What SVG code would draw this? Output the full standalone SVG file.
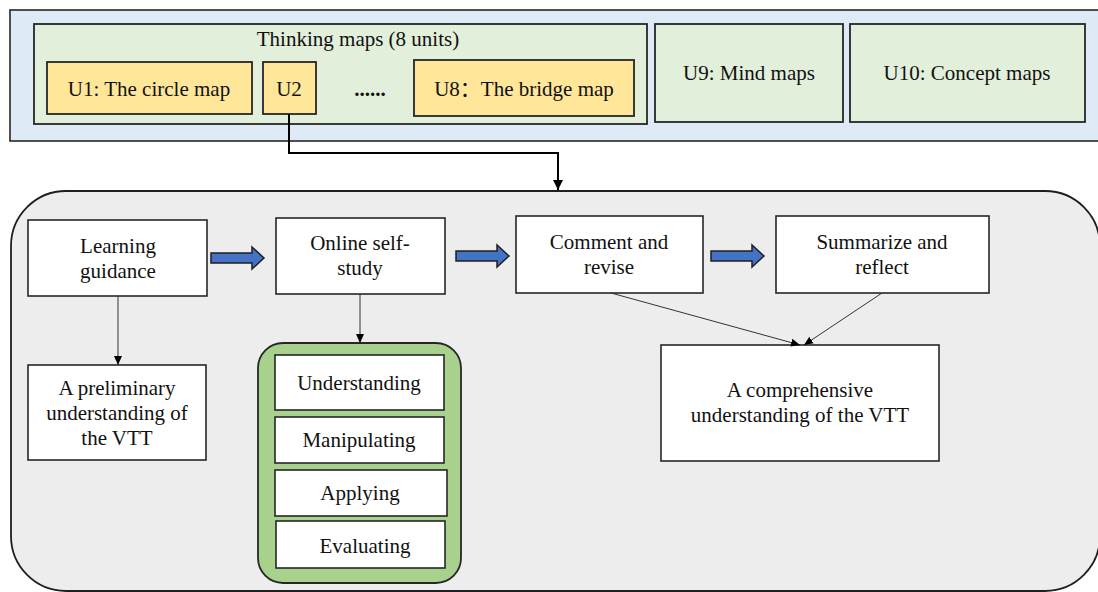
<svg xmlns="http://www.w3.org/2000/svg" width="1098" height="592" viewBox="0 0 1098 592">
<defs>
<style>
.t{font-family:"Liberation Serif","Noto Sans CJK SC",serif;font-size:21px;fill:#111;text-anchor:middle}
.box{fill:#fff;stroke:#262626;stroke-width:1.6}
.unit{fill:#FFE699;stroke:#262626;stroke-width:1.8}
.gbox{fill:#E2EFDA;stroke:#262626;stroke-width:1.8}
.thin{fill:none;stroke:#333;stroke-width:1}
.barrow{fill:#4472C4;stroke:#1F1F1F;stroke-width:1.5}
</style>
<marker id="ah" markerWidth="10" markerHeight="10" refX="9" refY="5" orient="auto" markerUnits="userSpaceOnUse"><path d="M0,1 L9,5 L0,9 Z" fill="#000"/></marker>
<marker id="ahb" markerWidth="12" markerHeight="12" refX="10" refY="6" orient="auto" markerUnits="userSpaceOnUse"><path d="M0,1 L10,6 L0,11 Z" fill="#000"/></marker>
</defs>
<rect width="1098" height="592" fill="#fff"/>
<g id="top-panel">
<rect x="10" y="10" width="1100" height="131" fill="#DEEAF6" stroke="#262626" stroke-width="1.6"/>
</g>
<g id="thinking-maps">
<rect class="gbox" x="34" y="24" width="613" height="100"/>
<text class="t" x="358" y="46">Thinking maps (8 units)</text>
</g>
<g id="u1"><rect class="unit" x="47" y="62" width="205" height="52"/><text class="t" x="149" y="96">U1: The circle map</text></g>
<g id="u2"><rect class="unit" x="263" y="62" width="53" height="52"/><text class="t" x="289" y="96">U2</text></g>
<g id="dots"><text class="t" x="370" y="96" font-weight="bold">......</text></g>
<g id="u8"><rect class="unit" x="414" y="60" width="220" height="56"/><text class="t" x="524" y="96">U8：The bridge map</text></g>
<g id="u9"><rect class="gbox" x="655" y="24" width="188" height="98"/><text class="t" x="749" y="80">U9: Mind maps</text></g>
<g id="u10"><rect class="gbox" x="850" y="24" width="235" height="98"/><text class="t" x="967" y="80">U10: Concept maps</text></g>
<g id="process-panel">
<rect x="11" y="191" width="1089" height="400" rx="55" ry="55" fill="#EDEDED" stroke="#1F1F1F" stroke-width="1.8"/>
</g>
<g id="learning-guidance"><rect class="box" x="28" y="220" width="179" height="76"/><text class="t" x="118" y="253">Learning</text><text class="t" x="118" y="278">guidance</text></g>
<g id="online-self-study"><rect class="box" x="276" y="218" width="169" height="76"/><text class="t" x="360" y="250">Online self-</text><text class="t" x="360" y="275">study</text></g>
<g id="comment-revise"><rect class="box" x="516" y="216" width="187" height="77"/><text class="t" x="609" y="249">Comment and</text><text class="t" x="609" y="274">revise</text></g>
<g id="summarize-reflect"><rect class="box" x="776" y="216" width="213" height="77"/><text class="t" x="882" y="249">Summarize and</text><text class="t" x="882" y="274">reflect</text></g>
<g id="preliminary"><rect class="box" x="28" y="365" width="178" height="95"/><text class="t" x="117" y="395">A preliminary</text><text class="t" x="117" y="420">understanding of</text><text class="t" x="117" y="445">the VTT</text></g>
<g id="activities">
<rect x="258" y="343" width="203" height="240" rx="25" ry="25" fill="#A9D18E" stroke="#262626" stroke-width="1.8"/>
</g>
<g id="understanding"><rect class="box" x="275" y="355" width="169" height="55"/><text class="t" x="359" y="390">Understanding</text></g>
<g id="manipulating"><rect class="box" x="275" y="417" width="169" height="46"/><text class="t" x="359" y="447">Manipulating</text></g>
<g id="applying"><rect class="box" x="275" y="470" width="172" height="46"/><text class="t" x="360" y="500">Applying</text></g>
<g id="evaluating"><rect class="box" x="276" y="521" width="169" height="47"/><text class="t" x="365" y="553">Evaluating</text></g>
<g id="comprehensive"><rect class="box" x="661" y="345" width="278" height="116"/><text class="t" x="800" y="397">A comprehensive</text><text class="t" x="800" y="422">understanding of the VTT</text></g>
<g id="connectors">
<path d="M289,114 V153 H558 V190" fill="none" stroke="#000" stroke-width="2" marker-end="url(#ahb)"/>
<path class="barrow" d="M211,253 H252 V247 L264,258 L252,269 V263 H211 Z"/>
<path class="barrow" d="M456,251 H497 V245 L509,256 L497,267 V261 H456 Z"/>
<path class="barrow" d="M711,251 H752 V245 L764,256 L752,267 V261 H711 Z"/>
<path class="thin" d="M118,296 V365" marker-end="url(#ah)"/>
<path class="thin" d="M360,294 V343" marker-end="url(#ah)"/>
<path class="thin" d="M611,293 L800,345" marker-end="url(#ah)"/>
<path class="thin" d="M882,293 L804,345" marker-end="url(#ah)"/>
</g>
</svg>
